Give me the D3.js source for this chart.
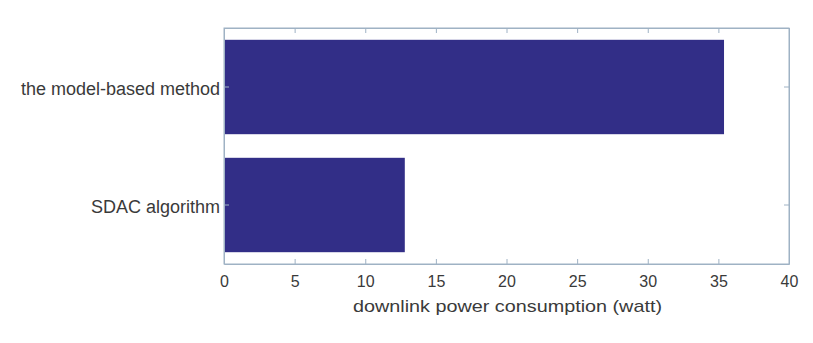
<!DOCTYPE html>
<html>
<head>
<meta charset="utf-8">
<script src="https://cdn.jsdelivr.net/npm/d3@7"></script>
<style>
  body { margin: 0; background: #fff; }
  svg { display: block; font-family: "Liberation Sans", Arial, sans-serif; }
</style>
</head>
<body>
<div id="chart"></div>
<script>
// data
const categories = ["the model-based method", "SDAC algorithm"]
const values = [35.4, 12.8]
const xTicks = [0, 5, 10, 15, 20, 25, 30, 35, 40]
const xLabel = "downlink power consumption (watt)"

const width = 813, height = 343
const margin = { top: 28, right: 24, bottom: 79, left: 224 }
const w = width - margin.left - margin.right
const h = height - margin.top - margin.bottom

const axisColor = "#9fb2c4"
const textColor = "#3a3a3a"
const barColor = "#322e87"

const svg = d3.select("#chart").append("svg")
  .attr("width", width)
  .attr("height", height)

const g = svg.append("g")
  .attr("transform", `translate(${margin.left},${margin.top})`)

const x = d3.scaleLinear().domain([0, 40]).range([0, w])
const y = d3.scaleBand().domain(categories).range([0, h]).paddingInner(0.2).paddingOuter(0.1)

// frame
g.append("rect")
  .attr("width", w).attr("height", h)
  .attr("fill", "none").attr("stroke", axisColor).attr("stroke-width", 1)

// bars
g.selectAll(".bar")
  .data(values)
  .join("rect")
  .attr("class", "bar")
  .attr("x", x(0))
  .attr("y", (d, i) => y(categories[i]))
  .attr("width", d => x(d) - x(0))
  .attr("height", y.bandwidth())
  .attr("fill", barColor)

// bottom axis, ticks pointing inward
const axBottom = g.append("g")
  .attr("transform", `translate(0,${h})`)
  .call(d3.axisBottom(x).tickValues(xTicks).tickSizeInner(-5).tickSizeOuter(0).tickPadding(12))
const axTop = g.append("g")
  .call(d3.axisTop(x).tickValues(xTicks).tickSizeInner(-5).tickSizeOuter(0).tickFormat(""))

// left/right axes, ticks inward
const axLeft = g.append("g")
  .call(d3.axisLeft(y).tickSizeInner(-5).tickSizeOuter(0).tickPadding(4))
const axRight = g.append("g")
  .attr("transform", `translate(${w},0)`)
  .call(d3.axisRight(y).tickSizeInner(-5).tickSizeOuter(0).tickFormat(""))

;[axBottom, axTop, axLeft, axRight].forEach(a => {
  a.select(".domain").attr("stroke", axisColor)
  a.selectAll(".tick line").attr("stroke", axisColor)
  a.selectAll("text").attr("fill", textColor)
})
axBottom.selectAll("text").attr("font-size", 16).attr("font-family", "Liberation Sans, Arial, sans-serif")
axLeft.selectAll("text")
  .attr("font-size", 18)
  .attr("font-family", "Liberation Sans, Arial, sans-serif")
  .attr("y", 2)

// x label
g.append("text")
  .attr("x", x(0) + 129)
  .attr("y", h + 48)
  .attr("fill", textColor)
  .attr("font-size", 17)
  .attr("textLength", 309)
  .attr("lengthAdjust", "spacingAndGlyphs")
  .text(xLabel)
</script>
</body>
</html>
